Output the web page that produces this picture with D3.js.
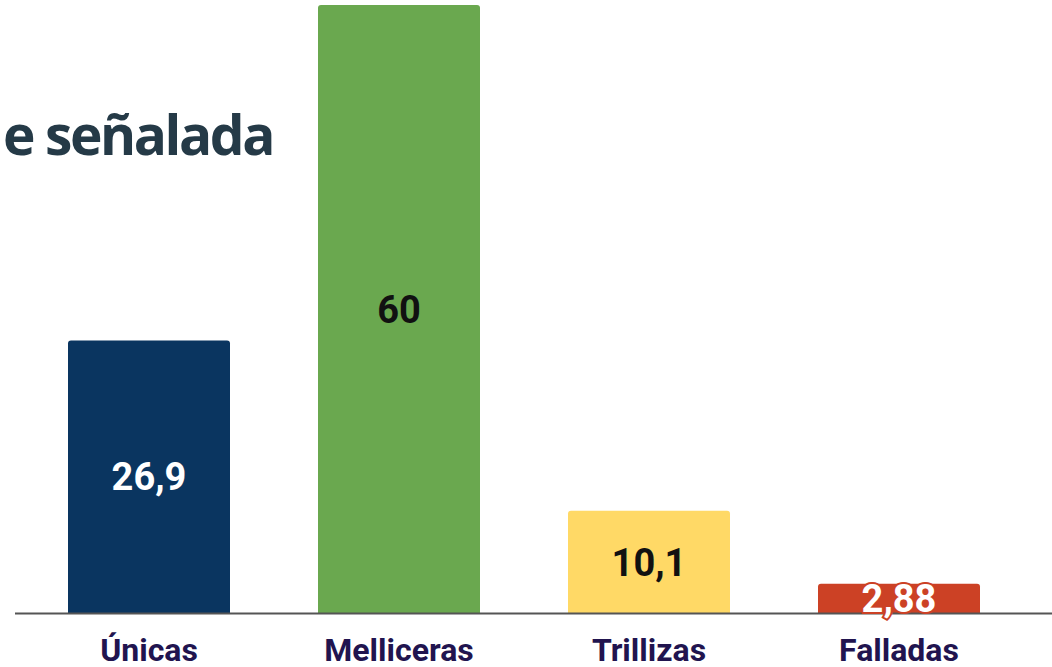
<!DOCTYPE html>
<html>
<head>
<meta charset="utf-8">
<script src="https://cdn.jsdelivr.net/npm/d3@7"></script>
<style>
  body { margin: 0; background: #fff; }
  svg { display: block; }
</style>
</head>
<body>
<div id="chart"></div>
<script>
const categories = ["Únicas", "Melliceras", "Trillizas", "Falladas"];
const values = [26.9, 60, 10.1, 2.88];
const valueLabels = ["26,9", "60", "10,1", "2,88"];
const barColors = ["#0a3560", "#6aa84f", "#ffd966", "#cc4125"];
const labelColors = ["#ffffff", "#111111", "#111111", "#ffffff"];

const width = 1052;
const height = 667;
const baseY = 613;

const svg = d3.select("#chart")
    .append("svg")
    .attr("width", width)
    .attr("height", height);

// title (cut off at the left in the original)
svg.append("text")
    .attr("x", 273)
    .attr("y", 155)
    .attr("text-anchor", "end")
    .style("font-family", "'Open Sans', sans-serif")
    .style("font-weight", "700")
    .style("font-size", "55px")
    .style("letter-spacing", "-2.4px")
    .style("fill", "#253a47")
    .text("e señalada");

const xScale = d3.scaleBand()
    .domain(categories)
    .range([24, 1024])
    .paddingInner(0.352)
    .paddingOuter(0.176);

const yScale = d3.scaleLinear()
    .domain([0, 60])
    .range([baseY, 5]);

const data = categories.map((c, i) => ({ cat: c, value: values[i], label: valueLabels[i], i: i }));

function barPath(d) {
    const x0 = xScale(d.cat);
    const w = xScale.bandwidth();
    const y0 = yScale(d.value);
    const r = 3;
    return `M${x0},${baseY} V${y0 + r} Q${x0},${y0} ${x0 + r},${y0} H${x0 + w - r} Q${x0 + w},${y0} ${x0 + w},${y0 + r} V${baseY} Z`;
}

svg.selectAll(".bar")
    .data(data)
    .enter().append("path")
    .attr("class", "bar")
    .attr("d", barPath)
    .attr("fill", d => barColors[d.i]);

// baseline
svg.append("line")
    .attr("x1", 15)
    .attr("x2", width)
    .attr("y1", baseY + 0.5)
    .attr("y2", baseY + 0.5)
    .attr("stroke", "#555555")
    .attr("stroke-width", 2);

// value labels
svg.selectAll(".value")
    .data(data)
    .enter().append("text")
    .attr("class", "value")
    .attr("x", d => xScale(d.cat) + xScale.bandwidth() / 2)
    .attr("y", d => (yScale(d.value) + baseY) / 2)
    .attr("dy", "0.36em")
    .attr("text-anchor", "middle")
    .style("font-family", "Roboto, sans-serif")
    .style("font-weight", "700")
    .style("font-size", "38px")
    .style("fill", d => labelColors[d.i])
    .style("stroke", d => d.i === 3 ? "#cc4125" : "none")
    .style("stroke-width", d => d.i === 3 ? 4 : 0)
    .style("paint-order", "stroke")
    .text(d => d.label);

// category labels
svg.selectAll(".cat")
    .data(data)
    .enter().append("text")
    .attr("class", "cat")
    .attr("x", d => xScale(d.cat) + xScale.bandwidth() / 2)
    .attr("y", 661)
    .attr("text-anchor", "middle")
    .style("font-family", "Roboto, sans-serif")
    .style("font-weight", "700")
    .style("font-size", "32px")
    .style("fill", "#21144f")
    .text(d => d.cat);
</script>
</body>
</html>
